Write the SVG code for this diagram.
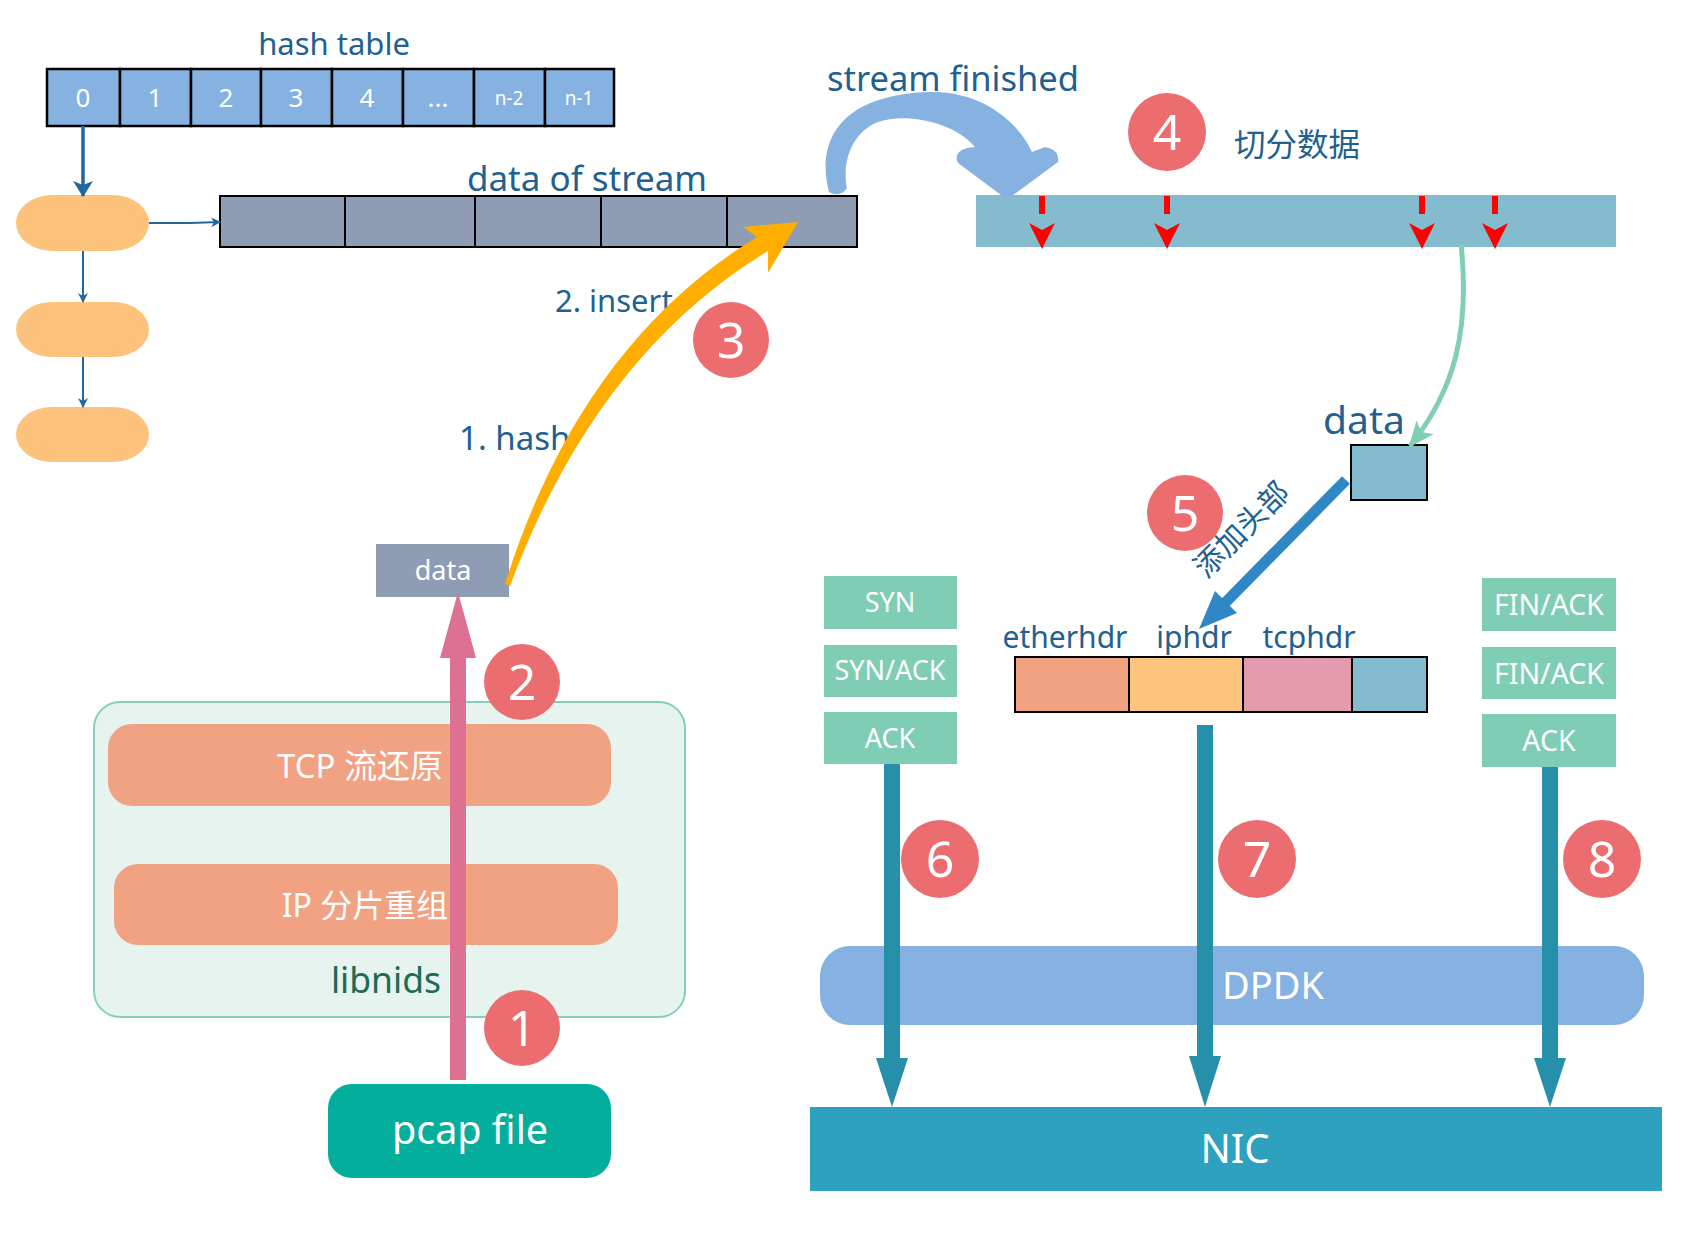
<svg xmlns="http://www.w3.org/2000/svg" width="1705" height="1246" viewBox="0 0 1705 1246">
<style>
.t{font-family:"Noto Sans","Noto Sans CJK SC",sans-serif;}
.lbl{fill:#22608F;}
.w{fill:#ffffff;text-anchor:middle;}
.cell{fill:#85B2E0;stroke:#000;stroke-width:2.5;}
.sc{fill:#8E9DB3;stroke:#000;stroke-width:2;}
.pill{fill:#FDC37D;}
.num{fill:#EB6D70;}
.nt{font-family:"Noto Sans",sans-serif;font-size:50px;fill:#fff;text-anchor:middle;}
.grn{fill:#7ECDB4;}
.teal{fill:#268FAA;}
.red{fill:#FF0000;}
</style>
<defs>
<marker id="ahB" markerWidth="10" markerHeight="10" refX="9" refY="5" orient="auto" markerUnits="userSpaceOnUse" viewBox="0 0 10 10">
<path d="M0,0 L10,5 L0,10 L3,5 Z" fill="#24679E"/>
</marker>
<marker id="ahBig" markerWidth="16" markerHeight="20" refX="15" refY="10" orient="auto" markerUnits="userSpaceOnUse" viewBox="0 0 16 20">
<path d="M0,0 L16,10 L0,20 L4,10 Z" fill="#24679E"/>
</marker>
<marker id="ahM" markerWidth="26" markerHeight="22" refX="24" refY="11" orient="auto" markerUnits="userSpaceOnUse" viewBox="0 0 26 22">
<path d="M0,0 L26,11 L0,22 L6,11 Z" fill="#82CDB5"/>
</marker>
</defs>
<rect width="1705" height="1246" fill="#ffffff"/>

<g id="hash-table">
<text class="t lbl" x="334" y="55" font-size="31" text-anchor="middle">hash table</text>
<rect class="cell" x="47" y="69" width="73" height="57"/>
<rect class="cell" x="120" y="69" width="71" height="57"/>
<rect class="cell" x="191" y="69" width="70" height="57"/>
<rect class="cell" x="261" y="69" width="71" height="57"/>
<rect class="cell" x="332" y="69" width="71" height="57"/>
<rect class="cell" x="403" y="69" width="71" height="57"/>
<rect class="cell" x="474" y="69" width="71" height="57"/>
<rect class="cell" x="545" y="69" width="69" height="57"/>
<g class="t w" font-size="26">
<text x="83" y="107">0</text>
<text x="155" y="107">1</text>
<text x="226" y="107">2</text>
<text x="296" y="107">3</text>
<text x="367" y="107">4</text>
<text x="438" y="107">...</text>
<text x="509" y="105" font-size="19">n-2</text>
<text x="579" y="105" font-size="19">n-1</text>
</g>
</g>

<g id="bucket-list">
<rect class="pill" x="16" y="195" width="133" height="56" rx="36" ry="28"/>
<rect class="pill" x="16" y="302" width="133" height="55" rx="36" ry="28"/>
<rect class="pill" x="16" y="407" width="133" height="55" rx="36" ry="28"/>
</g>

<g id="data-of-stream">
<text class="t lbl" x="587" y="191" font-size="35" text-anchor="middle">data of stream</text>
<rect class="sc" x="220" y="196" width="125" height="51"/>
<rect class="sc" x="345" y="196" width="130" height="51"/>
<rect class="sc" x="475" y="196" width="126" height="51"/>
<rect class="sc" x="601" y="196" width="126" height="51"/>
<rect class="sc" x="727" y="196" width="130" height="51"/>
</g>

<g id="labels-left">
<text class="t lbl" x="555" y="312" font-size="31">2. insert</text>
<text class="t lbl" x="459" y="450" font-size="33">1. hash</text>
</g>

<g id="libnids">
<rect x="94" y="702" width="591" height="315" rx="26" fill="#E6F3EE" stroke="#84D0B8" stroke-width="2"/>
<rect x="108" y="724" width="503" height="82" rx="24" fill="#F1A283"/>
<text class="t w" x="360" y="778" font-size="33">TCP 流还原</text>
<rect x="114" y="864" width="504" height="81" rx="24" fill="#F1A283"/>
<text class="t w" x="365" y="917" font-size="32">IP 分片重组</text>
<text class="t" x="386" y="993" font-size="35.5" fill="#1C6B57" text-anchor="middle">libnids</text>
</g>

<g id="pcap-file">
<rect x="328" y="1084" width="283" height="94" rx="24" fill="#04AE9C"/>
<text class="t w" x="470" y="1144" font-size="39.5">pcap file</text>
</g>

<g id="data-packet">
<rect x="376" y="544" width="133" height="53" fill="#8E9DB3"/>
<text class="t w" x="443" y="580" font-size="27">data</text>
</g>

<g id="stream-buffer">
<text class="t lbl" x="953" y="91" font-size="34.5" text-anchor="middle">stream finished</text>
<rect x="976" y="195" width="640" height="52" fill="#84BBCF"/>
<text class="t lbl" x="1297" y="156" font-size="31.5" text-anchor="middle">切分数据</text>
</g>

<g id="data-chunk">
<text class="t lbl" x="1364" y="434" font-size="39" text-anchor="middle">data</text>
<rect x="1351" y="445" width="76" height="55" fill="#84BBCF" stroke="#000" stroke-width="2"/>
</g>

<g id="packet-headers">
<g class="t lbl" font-size="30" text-anchor="middle">
<text x="1065" y="648">etherhdr</text>
<text x="1194" y="648">iphdr</text>
<text x="1309" y="648">tcphdr</text>
</g>
<rect x="1015" y="657" width="114" height="55" fill="#F1A283" stroke="#000" stroke-width="2"/>
<rect x="1129" y="657" width="114" height="55" fill="#FDC47D" stroke="#000" stroke-width="2"/>
<rect x="1243" y="657" width="109" height="55" fill="#E39BAD" stroke="#000" stroke-width="2"/>
<rect x="1352" y="657" width="75" height="55" fill="#84BBCF" stroke="#000" stroke-width="2"/>
</g>

<g id="handshake">
<rect class="grn" x="824" y="576" width="133" height="53"/>
<rect class="grn" x="824" y="645" width="133" height="52"/>
<rect class="grn" x="824" y="712" width="133" height="52"/>
<g class="t w" font-size="27">
<text x="890" y="612">SYN</text>
<text x="890" y="680">SYN/ACK</text>
<text x="890" y="748">ACK</text>
</g>
</g>

<g id="teardown">
<rect class="grn" x="1482" y="578" width="134" height="53"/>
<rect class="grn" x="1482" y="647" width="134" height="52"/>
<rect class="grn" x="1482" y="714" width="134" height="53"/>
<g class="t w" font-size="28.5">
<text x="1549" y="615">FIN/ACK</text>
<text x="1549" y="684">FIN/ACK</text>
<text x="1549" y="751">ACK</text>
</g>
</g>

<g id="dpdk">
<rect x="820" y="946" width="824" height="79" rx="30" fill="#85B2E2"/>
<text class="t w" x="1273" y="999" font-size="38">DPDK</text>
</g>

<g id="nic">
<rect x="810" y="1107" width="852" height="84" fill="#2DA1BE"/>
<text class="t w" x="1235" y="1163" font-size="40">NIC</text>
</g>

<g id="connectors">
<line x1="83" y1="126" x2="83" y2="196" stroke="#24679E" stroke-width="3.5" marker-end="url(#ahBig)"/>
<line x1="83" y1="251" x2="83" y2="302" stroke="#24679E" stroke-width="2" marker-end="url(#ahB)"/>
<line x1="83" y1="357" x2="83" y2="407" stroke="#24679E" stroke-width="2" marker-end="url(#ahB)"/>
<path d="M149,223 L190,223 L220,222" fill="none" stroke="#24679E" stroke-width="2" marker-end="url(#ahB)"/>

<path d="M505,584 Q580,345 757,237 L743,227 L798,222 L768,273 L768,251 Q596,355 510,586 Z" fill="#FFAE00"/>

<rect x="450" y="655" width="16" height="425" fill="#DC7192"/>
<polygon points="440,658 476,658 458,592" fill="#DC7192"/>

<path d="M829,192 C818,150 830,95 930,92 C985,91 1020,125 1032,152 L1045,147 Q1060,150 1058,162 L1012,196 Q1006,199 1001,195 L958,163 Q953,152 967,148 L975,147 C955,122 905,112 878,122 C850,133 842,165 847,188 Q840,198 829,192 Z" fill="#85B2E0"/>

<g class="red">
<rect x="1039" y="196" width="6" height="18"/>
<path d="M1029,223 L1042,230 L1055,223 L1042,249 Z"/>
<rect x="1164" y="196" width="6" height="18"/>
<path d="M1154,223 L1167,230 L1180,223 L1167,249 Z"/>
<rect x="1419" y="196" width="6" height="18"/>
<path d="M1409,223 L1422,230 L1435,223 L1422,249 Z"/>
<rect x="1492" y="196" width="6" height="18"/>
<path d="M1482,223 L1495,230 L1508,223 L1495,249 Z"/>
</g>

<path d="M1461,244 C1470,330 1455,390 1410,446" fill="none" stroke="#82CDB5" stroke-width="5" marker-end="url(#ahM)"/>

<line x1="1346" y1="480" x2="1222" y2="606" stroke="#2F87C4" stroke-width="11"/>
<polygon points="1199,629 1237,613 1215,591" fill="#2F87C4"/>
<text class="t lbl" font-size="30" text-anchor="middle" transform="translate(1249,537) rotate(-45)">添加头部</text>

<rect class="teal" x="884" y="764" width="16" height="298"/>
<polygon class="teal" points="876,1058 908,1058 892,1107"/>
<rect class="teal" x="1197" y="725" width="16" height="335"/>
<polygon class="teal" points="1189,1056 1221,1056 1205,1107"/>
<rect class="teal" x="1542" y="767" width="16" height="295"/>
<polygon class="teal" points="1534,1058 1566,1058 1550,1107"/>
</g>

<g id="step-badges">
<circle class="num" cx="522" cy="1028" r="38"/><text class="nt" x="522" y="1046">1</text>
<circle class="num" cx="522" cy="682" r="38"/><text class="nt" x="522" y="700">2</text>
<circle class="num" cx="731" cy="340" r="38"/><text class="nt" x="731" y="358">3</text>
<circle class="num" cx="1167" cy="132" r="39"/><text class="nt" x="1167" y="150">4</text>
<circle class="num" cx="1185" cy="513" r="38"/><text class="nt" x="1185" y="531">5</text>
<circle class="num" cx="940" cy="859" r="39"/><text class="nt" x="940" y="877">6</text>
<circle class="num" cx="1257" cy="859" r="39"/><text class="nt" x="1257" y="877">7</text>
<circle class="num" cx="1602" cy="859" r="39"/><text class="nt" x="1602" y="877">8</text>
</g>
</svg>
